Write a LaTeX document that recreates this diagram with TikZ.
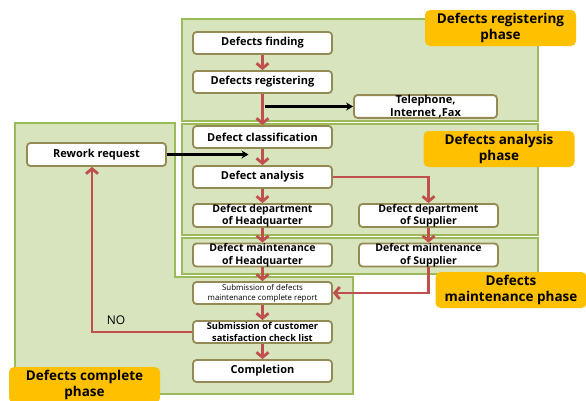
\documentclass[tikz,border=0pt]{standalone}
\usepackage{fontspec}
\setmainfont{Open Sans}
\usetikzlibrary{arrows.meta}
\definecolor{panelfill}{HTML}{D7E4BD}
\definecolor{panelline}{HTML}{9BBB59}
\definecolor{boxline}{HTML}{948A54}
\definecolor{tagfill}{HTML}{FFC000}
\definecolor{flowred}{HTML}{C0504D}
\begin{document}
\begin{tikzpicture}[x=1pt,y=-1pt,
  panel/.style={fill=panelfill, draw=panelline, line width=2pt},
  stepbox/.style={draw=boxline, fill=white, line width=1.8pt, rounded corners=3.5pt,
    minimum width=139pt, minimum height=22pt, inner sep=0pt, align=center,
    font=\bfseries\fontsize{11}{12.5}\selectfont},
  twoline/.style={font=\bfseries\fontsize{10.5}{12.5}\selectfont},
  tag/.style={fill=tagfill, rounded corners=5pt, minimum width=151pt, minimum height=36pt,
    inner sep=0pt, align=center, font=\bfseries\fontsize{13.5}{16}\selectfont},
  flow/.style={draw=flowred, line width=2.8pt, -{Straight Barb[length=5pt,width=12pt]}},
  link/.style={draw=black, line width=2.2pt, -{Stealth[length=7pt,width=8pt]}}]
\useasboundingbox (0,0) rectangle (586,400);

% phase panels
\draw[panel] (15,123) -- (175,123) -- (175,277) -- (353,277) -- (353,394) -- (15,394) -- cycle;
\draw[panel] (182,19) rectangle (538,121);
\draw[panel] (182,124) rectangle (538,235);
\draw[panel] (182,238) rectangle (538,274);

% phase tags
\node[tag] (tagreg) at (500.5,28) {Defects registering\\phase};
\node[tag] (tagana) at (499,149) {Defects analysis\\phase};
\node[tag] (tagmnt) at (511,290) {Defects\\maintenance phase};
\node[tag] (tagcmp) at (84.5,385) {Defects complete\\phase};

% process steps
\node[stepbox] (find) at (262.5,43) {Defects finding};
\node[stepbox] (reg) at (262.5,82) {Defects registering};
\node[stepbox, minimum width=143pt, font=\bfseries\fontsize{11}{13}\selectfont] (tel) at (425.5,106.5) {Telephone,\\Internet ,Fax};
\node[stepbox] (cls) at (262.5,137) {Defect classification};
\node[stepbox, minimum height=23pt] (rework) at (96.5,154.5) {Rework request};
\node[stepbox] (ana) at (262.5,177) {Defect analysis};
\node[stepbox, twoline] (dhq) at (262.5,215.5) {Defect department\\of Headquarter};
\node[stepbox, twoline] (dsup) at (428.5,215.5) {Defect department\\of Supplier};
\node[stepbox, twoline] (mhq) at (262.5,255) {Defect maintenance\\of Headquarter};
\node[stepbox, twoline] (msup) at (428.5,255) {Defect maintenance\\of Supplier};
\node[stepbox, font=\fontsize{7.9}{10}\selectfont] (rep) at (262.5,293) {Submission of defects\\maintenance complete report};
\node[stepbox, font=\bfseries\fontsize{9.3}{12}\selectfont] (chk) at (262.5,332) {Submission of customer\\satisfaction check list};
\node[stepbox] (done) at (262.5,371) {Completion};

% flow
\draw[flow] (find) -- (reg);
\draw[flow] (reg) -- (cls);
\draw[link] ([xshift=2.5pt]reg.south |- tel) -- (tel.west);
\draw[flow] (cls) -- (ana);
\draw[link] (rework.east) -- ([xshift=-14pt]cls.south |- rework.east);
\draw[flow] (ana) -- (dhq);
\draw[flow] (ana.east) -| (dsup.north);
\draw[flow] (dhq) -- (mhq);
\draw[flow] (dsup) -- (msup);
\draw[flow] (mhq) -- (rep);
\draw[flow] (msup.south) |- (rep.east);
\draw[flow] (rep) -- (chk);
\draw[flow] (chk) -- (done);
\draw[flow] (chk.west) -| ([xshift=-4.5pt]rework.south)
  node[pos=0.38, above=3pt, font=\fontsize{12}{14}\selectfont] (no) {NO};
\end{tikzpicture}
\end{document}
